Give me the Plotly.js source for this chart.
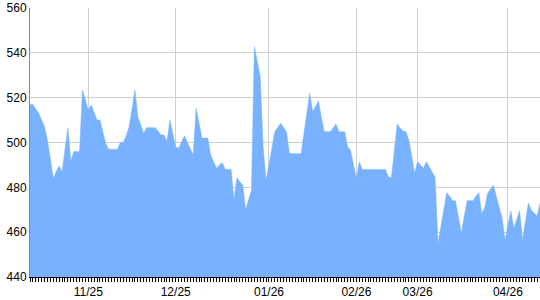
<!DOCTYPE html>
<html>
<head>
<meta charset="utf-8">
<script src="https://cdn.plot.ly/plotly-3.0.1.min.js"></script>
<style>html,body{margin:0;padding:0;background:#fff}#chart{width:540px;height:300px}</style>
</head>
<body>
<div id="chart"></div>
<script>
// one value per trading day (index along the x axis)
const values = [
  517, 517, 515, 513, 510, 507, 501, 492, 484, 487,
  489.5, 487, 497, 506.6, 491.5, 496, 496, 496, 523.4, 519,
  514.5, 516.7, 513, 510, 510, 505, 499.6, 497, 497, 497,
  497, 500, 500, 503, 507, 515, 523.4, 511.5, 508, 504,
  506.6, 506.6, 506.6, 506.6, 505, 503.4, 503.4, 500.4, 510, 504,
  498, 497.4, 500, 503, 500, 497, 494.4, 515.3, 508, 502,
  502, 502, 494.4, 491, 488.5, 490, 491, 488, 488, 488,
  474.4, 484.3, 482.5, 481, 470, 474, 478.8, 542.8, 536, 529.4,
  498, 483, 490, 497, 504.8, 506.7, 508.6, 506.7, 504.8, 495.2,
  495, 495, 495, 495, 504, 513, 522, 513.8, 516, 518.5,
  511, 504.8, 504.8, 504.8, 506.5, 508.3, 504.8, 504.8, 504.8, 498,
  496.5, 490, 484, 491.4, 488, 488, 488, 488, 488, 488,
  488, 488, 488, 484.5, 484.5, 496, 508.3, 506.5, 505.1, 504.8,
  501, 494, 486.3, 491.4, 490, 488.5, 491.4, 489, 486.8, 484.5,
  455, 463, 470.7, 477.6, 476, 474, 474, 467, 459.5, 467,
  474, 474, 474, 476, 477.6, 468.4, 470.7, 477.3, 479, 481,
  476, 470.7, 466.2, 456.5, 463, 469.5, 461.7, 465.6, 469.5, 456.5,
  465, 473, 469.9, 468.5, 467.2, 472.9
];
const dayIndex = values.map((_, i) => i);
// first trading day of each month (index) and its label
const monthStartIdx = [20, 50, 82, 112, 133, 164];
const monthLabels = ['11/25', '12/25', '01/26', '02/26', '03/26', '04/26'];
const yTicks = [440, 460, 480, 500, 520, 540, 560];

const trace = {
  x: dayIndex,
  y: values,
  type: 'scatter',
  mode: 'lines',
  fill: 'tozeroy',
  fillcolor: 'rgb(120,178,255)',
  line: {color: 'rgb(120,178,255)', width: 0.5},
  hoverinfo: 'skip'
};

const layout = {
  width: 540,
  height: 300,
  margin: {l: 30, r: 0, t: 8, b: 23},
  paper_bgcolor: '#fff',
  plot_bgcolor: '#fff',
  showlegend: false,
  font: {family: 'Arial, "Liberation Sans", sans-serif', size: 12, color: '#000'},
  xaxis: {
    range: [0, values.length - 1],
    tickmode: 'array',
    tickvals: monthStartIdx,
    ticktext: monthLabels,
    ticks: 'outside',
    ticklen: 4,
    tickcolor: '#000',
    tickwidth: 1,
    showgrid: true,
    gridcolor: '#cfcfcf',
    gridwidth: 1,
    showline: true,
    linecolor: '#000',
    linewidth: 1,
    zeroline: false,
    tickfont: {size: 12, color: '#000'},
    minor: {tickmode: 'linear', tick0: 0, dtick: 1, ticks: 'outside', ticklen: 4, tickcolor: '#000', tickwidth: 1, showgrid: false}
  },
  yaxis: {
    range: [440, 560],
    tickmode: 'array',
    tickvals: yTicks,
    ticktext: yTicks.map(String),
    ticks: '',
    showgrid: true,
    gridcolor: '#cfcfcf',
    gridwidth: 1,
    showline: true,
    linecolor: '#888',
    linewidth: 1,
    zeroline: false,
    tickfont: {size: 12, color: '#000'}
  }
};

Plotly.newPlot('chart', [trace], layout, {staticPlot: true, displayModeBar: false});
</script>
</body>
</html>
